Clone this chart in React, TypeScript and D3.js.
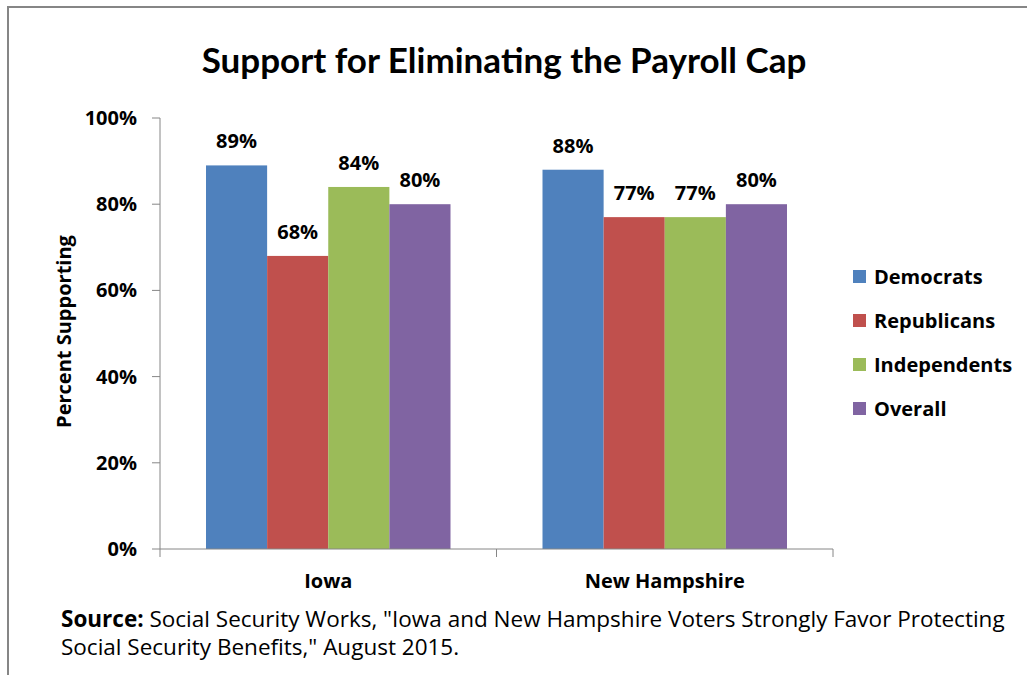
import React from "react";
import * as d3 from "d3";

const categories = ["Iowa", "New Hampshire"];
const seriesNames = ["Democrats", "Republicans", "Independents", "Overall"];
const democrats = [89, 88];
const republicans = [68, 77];
const independents = [84, 77];
const overall = [80, 80];
const yTicks = [0, 20, 40, 60, 80, 100];
const colors = ["#4F81BD", "#C0504D", "#9BBB59", "#8064A2"];

const W = 1027;
const H = 675;
const FONT = "'Open Sans', sans-serif";
const TITLE_FONT = "Lato, 'Open Sans', sans-serif";

export default function App() {
  const seriesValues = [democrats, republicans, independents, overall];
  const x0 = d3.scaleBand<string>().domain(categories).range([160, 833]).paddingInner(0).paddingOuter(0);
  const bw = x0.bandwidth();
  const groupPad = 46 / bw;
  const x1 = d3
    .scaleBand<string>()
    .domain(seriesNames)
    .range([bw * groupPad, bw * (1 - groupPad)]);
  const y = d3.scaleLinear().domain([0, 100]).range([549, 118]);

  return (
    <svg
      width={W}
      height={H}
      style={{ position: "absolute", left: 0, top: 0, background: "#fff" }}
      fontFamily={FONT}
    >
      <rect x={8} y={7} width={1100} height={800} fill="#fff" stroke="#868686" strokeWidth={2} />
      <text x={504} y={73} textAnchor="middle" fontSize={35} fontWeight="bold" fill="#000" fontFamily={TITLE_FONT}>
        Support for Eliminating the Payroll Cap
      </text>

      {/* y axis */}
      <line x1={160} x2={160} y1={y(100)} y2={y(0)} stroke="#868686" strokeWidth={1} />
      {yTicks.map((t) => (
        <g key={t}>
          <line x1={152} x2={160} y1={y(t)} y2={y(t)} stroke="#868686" />
          <text x={137} y={y(t)} dy="0.35em" textAnchor="end" fontSize={20} fontWeight="bold" fill="#000">
            {t}%
          </text>
        </g>
      ))}
      <text
        transform={`translate(64,${y(50) - 2}) rotate(-90)`}
        textAnchor="middle"
        dy="0.35em"
        fontSize={20}
        fontWeight="bold"
        fill="#000"
      >
        Percent Supporting
      </text>

      {/* bars */}
      {categories.map((c, ci) => (
        <g key={c} transform={`translate(${x0(c)},0)`}>
          {seriesNames.map((s, si) => {
            const v = seriesValues[si][ci];
            const bx = x1(s)!;
            return (
              <g key={s}>
                <rect x={bx} y={y(v)} width={x1.bandwidth()} height={y(0) - y(v)} fill={colors[si]} />
                <text
                  x={bx + x1.bandwidth() / 2}
                  y={y(v) - 17}
                  textAnchor="middle"
                  fontSize={20}
                  fontWeight="bold"
                  fill="#000"
                >
                  {v}%
                </text>
              </g>
            );
          })}
        </g>
      ))}

      {/* x axis */}
      <line x1={160} x2={833} y1={y(0)} y2={y(0)} stroke="#868686" />
      {[160, 160 + bw, 833].map((tx, i) => (
        <line key={i} x1={tx} x2={tx} y1={y(0)} y2={y(0) + 8} stroke="#868686" />
      ))}
      {categories.map((c) => (
        <text
          key={c}
          x={x0(c)! + bw / 2}
          y={581}
          dy="0.35em"
          textAnchor="middle"
          fontSize={20}
          fontWeight="bold"
          fill="#000"
        >
          {c}
        </text>
      ))}

      {/* legend */}
      {seriesNames.map((s, i) => (
        <g key={s} transform={`translate(853,${277 + i * 44})`}>
          <rect x={0} y={-7} width={13} height={13} fill={colors[i]} />
          <text x={21} y={0} dy="0.35em" fontSize={20} fontWeight="bold" fill="#000">
            {s}
          </text>
        </g>
      ))}

      {/* source */}
      <text x={61} y={627} fontSize={22.5} fill="#000">
        <tspan fontWeight="bold">Source:</tspan> Social Security Works, "Iowa and New Hampshire Voters Strongly Favor Protecting
      </text>
      <text x={61} y={655} fontSize={22.5} fill="#000">
        Social Security Benefits," August 2015.
      </text>
    </svg>
  );
}
